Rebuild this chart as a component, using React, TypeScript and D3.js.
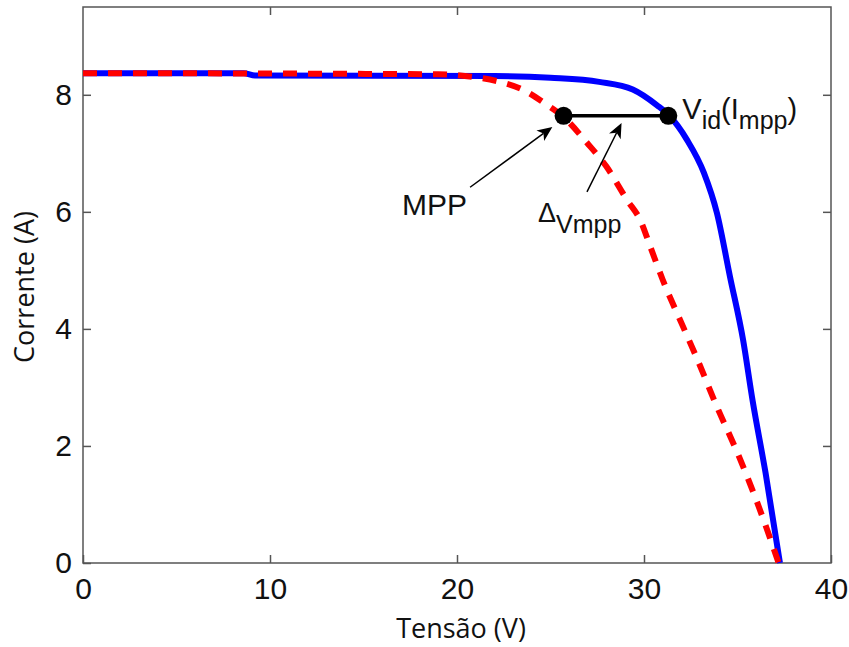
import * as d3 from 'd3';
import React, { useRef, useEffect } from 'react';

const W = 849;
const H = 647;
const margin = { top: 7, right: 18, bottom: 84, left: 83 };

// curva ideal (azul) e curva com sombreamento / medida (vermelha)
const idealV = [0, 8.6, 9.2, 22, 25, 27.6, 29.4, 30.7, 31.3, 32.3, 33.2, 33.9, 34.6, 35.3, 35.8, 36.5, 37.27];
const idealI = [8.37, 8.37, 8.33, 8.32, 8.29, 8.22, 8.09, 7.82, 7.66, 7.23, 6.67, 5.98, 4.89, 3.81, 2.79, 1.54, 0];

const realV = [0, 19, 21, 22.3, 23.5, 24.8, 25.7, 26.95, 28.0, 29.1, 29.8, 30.4, 31.0, 32.1, 32.8, 33.9, 35.0, 36.0, 37.2];
const realI = [8.37, 8.35, 8.3, 8.22, 8.09, 7.83, 7.62, 7.18, 6.77, 6.2, 5.86, 5.35, 4.84, 4.03, 3.52, 2.67, 1.88, 1.08, 0];

const xTicks = [0, 10, 20, 30, 40];
const yTicks = [0, 2, 4, 6, 8];

// pontos marcados: MPP e Vid(Impp)
const mppV = 25.7;
const vidV = 31.3;
const mppI = 7.64;

// setas: [V inicio, I inicio, V ponta, I ponta]
const arrows = [
  [20.7, 6.42, 25.1, 7.45],
  [26.95, 6.34, 28.8, 7.52],
];

const tickFont = '"Liberation Sans", Arial, sans-serif';
const labelFont = '"Open Sans", sans-serif';

function App() {
  const ref = useRef<SVGSVGElement>(null);

  useEffect(() => {
    const svg = d3.select(ref.current);
    svg.selectAll('*').remove();

    const x = d3.scaleLinear().domain([0, 40]).range([margin.left, W - margin.right]);
    const y = d3.scaleLinear().domain([0, 9.5]).range([H - margin.bottom, margin.top]);

    const x0 = x(0), x1 = x(40), y0 = y(0), y1 = y(9.5);

    // eixos estilo MATLAB (caixa, ticks para dentro)
    const bottom = svg.append('g')
      .attr('transform', `translate(0,${y0})`)
      .call(d3.axisBottom(x).tickValues(xTicks).tickSizeInner(-8).tickSizeOuter(0).tickPadding(15).tickFormat(d3.format('d')));
    const left = svg.append('g')
      .attr('transform', `translate(${x0},0)`)
      .call(d3.axisLeft(y).tickValues(yTicks).tickSizeInner(-8).tickSizeOuter(0).tickPadding(11).tickFormat(d3.format('d')));
    svg.append('g')
      .attr('transform', `translate(0,${y1})`)
      .call(d3.axisTop(x).tickValues([10, 20, 30]).tickSizeInner(-8).tickSizeOuter(0).tickFormat(() => ''));
    svg.append('g')
      .attr('transform', `translate(${x1},0)`)
      .call(d3.axisRight(y).tickValues([2, 4, 6, 8]).tickSizeInner(-8).tickSizeOuter(0).tickFormat(() => ''));

    svg.selectAll('.domain').remove();
    svg.selectAll('.tick line').attr('stroke', '#555').attr('stroke-width', 1.5);
    [bottom, left].forEach((g) =>
      g.selectAll('text')
        .attr('font-family', tickFont)
        .attr('font-size', 30)
        .attr('fill', '#111')
    );

    svg.append('rect')
      .attr('x', x0).attr('y', y1)
      .attr('width', x1 - x0).attr('height', y0 - y1)
      .attr('fill', 'none').attr('stroke', '#555').attr('stroke-width', 1.5);

    const idealPts = idealV.map((v, i) => [x(v), y(idealI[i])] as [number, number]);
    const realPts = realV.map((v, i) => [x(v), y(realI[i])] as [number, number]);
    const pl = d3.line().curve(d3.curveMonotoneX);

    svg.append('path')
      .attr('d', pl(idealPts))
      .attr('fill', 'none').attr('stroke', '#0000ff').attr('stroke-width', 6)
      .attr('stroke-linejoin', 'round');
    svg.append('path')
      .attr('d', pl(realPts))
      .attr('fill', 'none').attr('stroke', '#ff0000').attr('stroke-width', 6)
      .attr('stroke-dasharray', '14 11');

    // segmento entre MPP e Vid
    svg.append('line')
      .attr('x1', x(mppV)).attr('y1', y(mppI))
      .attr('x2', x(vidV)).attr('y2', y(mppI))
      .attr('stroke', '#000').attr('stroke-width', 3.5);
    svg.selectAll('circle.pt')
      .data([mppV, vidV])
      .join('circle')
      .attr('cx', (d) => x(d)).attr('cy', y(mppI)).attr('r', 9).attr('fill', '#000');

    // setas
    arrows.forEach(([va, ia, vb, ib]) => {
      const ax = x(va), ay = y(ia), bx = x(vb), by = y(ib);
      const ang = Math.atan2(by - ay, bx - ax);
      const L = 15, wdt = 6.5, back = 11;
      const ux = Math.cos(ang), uy = Math.sin(ang);
      const px = -uy, py = ux;
      svg.append('line')
        .attr('x1', ax).attr('y1', ay)
        .attr('x2', bx - ux * back).attr('y2', by - uy * back)
        .attr('stroke', '#000').attr('stroke-width', 1.5);
      const head = [
        [bx, by],
        [bx - ux * L + px * wdt, by - uy * L + py * wdt],
        [bx - ux * back, by - uy * back],
        [bx - ux * L - px * wdt, by - uy * L - py * wdt],
      ];
      svg.append('path')
        .attr('d', 'M' + head.map((p) => p.join(',')).join('L') + 'Z')
        .attr('fill', '#000');
    });

    // textos
    const [mx, my] = [x(arrows[0][0]), y(arrows[0][1])];
    svg.append('text')
      .attr('x', mx - 68).attr('y', my + 28)
      .attr('font-family', tickFont).attr('font-size', 30).attr('fill', '#111')
      .text('MPP');

    const [dx, dy] = [x(arrows[1][0]), y(arrows[1][1])];
    const dt = svg.append('text')
      .attr('x', dx - 49).attr('y', dy + 30)
      .attr('font-family', tickFont).attr('fill', '#111');
    dt.append('tspan').attr('font-size', 27).text('Δ');
    dt.append('tspan').attr('font-size', 25).attr('dy', 11).text('Vmpp');

    const vt = svg.append('text')
      .attr('x', x(vidV) + 14).attr('y', y(mppI) + 3)
      .attr('font-family', tickFont).attr('fill', '#111');
    vt.append('tspan').attr('font-size', 29).text('V');
    vt.append('tspan').attr('font-size', 25).attr('dy', 10).text('id');
    vt.append('tspan').attr('font-size', 29).attr('dy', -10).text('(I');
    vt.append('tspan').attr('font-size', 25).attr('dy', 10).text('mpp');
    vt.append('tspan').attr('font-size', 29).attr('dy', -10).text(')');

    // rótulos dos eixos
    svg.append('text')
      .attr('x', 461).attr('y', H - 9)
      .attr('text-anchor', 'middle')
      .attr('font-family', labelFont).attr('font-size', 27).attr('fill', '#111')
      .text('Tensão (V)');
    svg.append('text')
      .attr('transform', `translate(34,287) rotate(-90)`)
      .attr('text-anchor', 'middle')
      .attr('font-family', labelFont).attr('font-size', 27).attr('fill', '#111')
      .text('Corrente (A)');
  }, []);

  return (
    <svg
      ref={ref}
      width={W}
      height={H}
      style={{ position: 'absolute', left: 0, top: 0, background: '#fff' }}
    />
  );
}

export default App;
